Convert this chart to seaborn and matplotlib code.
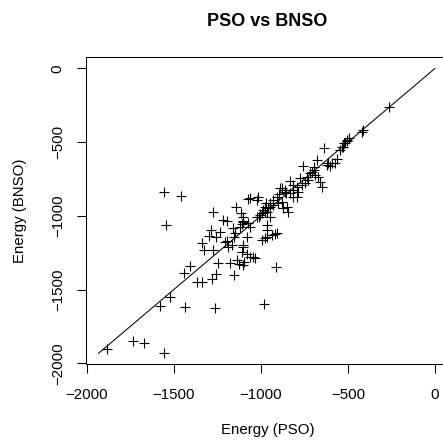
import matplotlib
matplotlib.use("Agg")
import matplotlib.pyplot as plt
import seaborn as sns
import pandas as pd

# Data
pso = [-1885, -1736, -1669, -1554, -1554, -1460, -1544, -1579, -1521, -1435,
       -1263, -982, -913, -1441, -1407, -1368, -1340, -1282, -1257, -1244,
       -1340, -1326, -1273, -1288, -1273, -1296, -1257, -1234, -1215, -1192,
       -1196, -1167, -1154, -1143, -1148, -1177, -1154, -1139, -1123, -1104,
       -1097, -1110, -1100, -1081, -1043, -1062, -1033, -1081, -1100, -1104,
       -1116, -1110, -1100, -1120, -1158, -1206, -1187, -1100, -1072, -1062,
       -1072, -1062, -1024, -1014, -1024, -1009, -995, -976, -976, -966,
       -970, -947, -947, -947, -966, -966, -995, -976, -966, -938,
       -919, -909, -928, -909, -896, -890, -880, -861, -861, -855,
       -880, -852, -842, -832, -817, -794, -775, -765, -756, -737,
       -718, -698, -689, -670, -679, -637, -612, -603, -574, -561,
       -536, -522, -507, -492, -421, -411, -264, -1005, -986, -957,
       -928, -899, -871, -813, -785, -746, -727, -708, -698, -660,
       -651, -622, -593, -545, -526, -517, -503, -813, -832, -794]
bnso = [-1905, -1846, -1860, -1932, -841, -863, -1062, -1611, -1548, -1620,
        -1623, -1598, -1349, -1385, -1340, -1451, -1451, -1426, -1394, -1322,
        -1187, -1232, -1232, -1096, -976, -1137, -1146, -1110, -1028, -1033,
        -1168, -1198, -1141, -942, -1119, -1318, -1399, -1300, -1327, -1333,
        -1311, -1243, -1209, -1259, -1277, -1277, -1288, -1146, -1006, -1040,
        -983, -1055, -1033, -1074, -1085, -1175, -1209, -1198, -1051, -1078,
        -888, -881, -893, -875, -1006, -1006, -983, -972, -938, -972,
        -915, -915, -938, -1006, -1062, -1096, -1164, -1153, -1146, -1130,
        -1123, -1119, -893, -870, -852, -814, -814, -836, -825, -848,
        -904, -938, -972, -762, -791, -802, -746, -791, -662, -735,
        -712, -689, -723, -735, -622, -542, -640, -662, -644, -617,
        -536, -509, -486, -475, -429, -418, -264, -994, -961, -949,
        -927, -915, -949, -825, -836, -780, -757, -701, -667, -768,
        -802, -655, -644, -554, -531, -504, -490, -870, -848, -870]

line_x = [-1933, 0]
line_y = [-1933, 0]

ticks = [-2000, -1500, -1000, -500, 0]
title = "PSO vs BNSO"
xlabel = "Energy (PSO)"
ylabel = "Energy (BNSO)"

df = pd.DataFrame({"PSO": pso, "BNSO": bnso})
df_line = pd.DataFrame({"x": line_x, "y": line_y})

sns.set_theme(style="white")
plt.rcParams["font.family"] = ["Liberation Sans", "DejaVu Sans"]
plt.rcParams["axes.unicode_minus"] = True

W, H = 443, 441
fig = plt.figure(figsize=(W / 100, H / 100), dpi=100)
left, right, top, bottom = 85.7, 449.0, 56.7, 364.3
ax = fig.add_axes([left / W, 1 - bottom / H, (right - left) / W, (bottom - top) / H])

sns.scatterplot(data=df, x="PSO", y="BNSO", marker="+", color="black",
                s=55, linewidth=0.8, ax=ax, legend=False)
sns.lineplot(data=df_line, x="x", y="y", color="black", linewidth=0.75,
             ax=ax, legend=False)

ax.set_xlim(-2006, 80)
ax.set_ylim(-2007, 79)
ax.set_xticks(ticks)
ax.set_yticks(ticks)
ax.set_xticklabels([f"{t}".replace("-", "\u2212") for t in ticks])
ax.set_yticklabels([f"{t}".replace("-", "\u2212") for t in ticks],
                   rotation=90, va="center")
ax.set_xlabel("")
ax.set_ylabel("")
ax.tick_params(axis="both", which="both", direction="out", length=6.5,
               width=0.75, color="black", labelsize=10.8,
               bottom=True, left=True, top=False, right=False,
               labelcolor="black")
ax.tick_params(axis="x", pad=10.8)
ax.tick_params(axis="y", pad=8.5)
for sp in ax.spines.values():
    sp.set_visible(True)
    sp.set_color("black")
    sp.set_linewidth(0.75)
ax.grid(False)

cx = (left + right) / 2 / W
fig.text(cx, 1 - 21 / H, title, ha="center", va="center",
         fontsize=13, fontweight="bold", color="black")
fig.text(cx, 1 - 430 / H, xlabel, ha="center", va="center",
         fontsize=10.8, color="black")
fig.text(20 / W, 1 - ((top + bottom) / 2) / H, ylabel, ha="center",
         va="center", rotation=90, fontsize=10.8, color="black")

fig.savefig("out.png", dpi=100)
